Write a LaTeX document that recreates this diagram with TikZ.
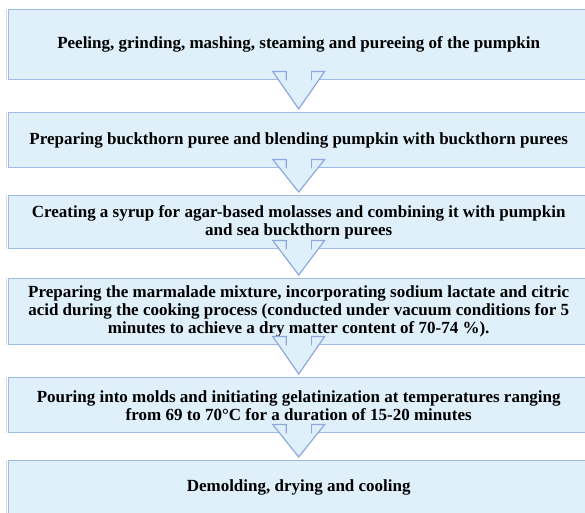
\documentclass[tikz,border=0pt]{standalone}
\usepackage{fontspec}
\setmainfont{Liberation Serif}
\usetikzlibrary{calc}
\definecolor{boxfill}{RGB}{223,240,251}
\definecolor{boxline}{RGB}{160,186,232}
\definecolor{arrline}{RGB}{140,168,222}
\definecolor{shadeline}{RGB}{215,220,228}
\tikzset{
  x=1pt, y=-1pt,
  stepbox/.style={draw=boxline, line width=1.4pt, fill=boxfill, minimum width=580pt,
    inner sep=0pt, align=center, anchor=north west, font=\bfseries\fontsize{17}{18}\selectfont},
  flowarrow/.style={draw=arrline, line width=1.2pt, fill=boxfill, line join=miter},
  leftshade/.style={draw=shadeline, line width=0.8pt}
}
\newcommand{\flowarr}[2]{%
  \path[flowarrow] ($(#1.south)+(-12.5,0)$) -- ($(#1.south)+(-12.5,-9)$) -- ($(#1.south)+(-26,-9)$)
    -- ($(#2.north)+(0,-3)$) -- ($(#1.south)+(26,-9)$) -- ($(#1.south)+(12.5,-9)$) -- ($(#1.south)+(12.5,0)$);
  \fill[boxfill] ($(#1.south)+(-11.9,0.8)$) rectangle ($(#1.south)+(11.9,-9.6)$);
}
\newcommand{\boxshade}[1]{%
  \draw[leftshade] ($(#1.north west)+(-1.6,0)$) -- ($(#1.south west)+(-1.6,0)$);
}
\begin{document}
\begin{tikzpicture}
\useasboundingbox (0,0) rectangle (585,512);
\fill[white] (0,0) rectangle (585,512);
\node[stepbox, minimum height=70pt] (b1) at (8,9) {Peeling, grinding, mashing, steaming and pureeing of the pumpkin};
\node[stepbox, minimum height=55pt] (b2) at (8,112) {Preparing buckthorn puree and blending pumpkin with buckthorn purees};
\node[stepbox, minimum height=53pt] (b3) at (8,195) {Creating a syrup for agar-based molasses and combining it with pumpkin\\and sea buckthorn purees};
\node[stepbox, minimum height=66pt] (b4) at (8,278) {Preparing the marmalade mixture, incorporating sodium lactate and citric\\acid during the cooking process (conducted under vacuum conditions for 5\\minutes to achieve a dry matter content of 70-74 \%).};
\node[stepbox, minimum height=55pt] (b5) at (8,377) {Pouring into molds and initiating gelatinization at temperatures ranging\\from 69 to 70°C for a duration of 15-20 minutes};
\node[stepbox, minimum height=54pt] (b6) at (8,460) {Demolding, drying and cooling};
\boxshade{b1}
\boxshade{b2}
\boxshade{b3}
\boxshade{b4}
\boxshade{b5}
\boxshade{b6}
\flowarr{b1}{b2}
\flowarr{b2}{b3}
\flowarr{b3}{b4}
\flowarr{b4}{b5}
\flowarr{b5}{b6}
\end{tikzpicture}
\end{document}
